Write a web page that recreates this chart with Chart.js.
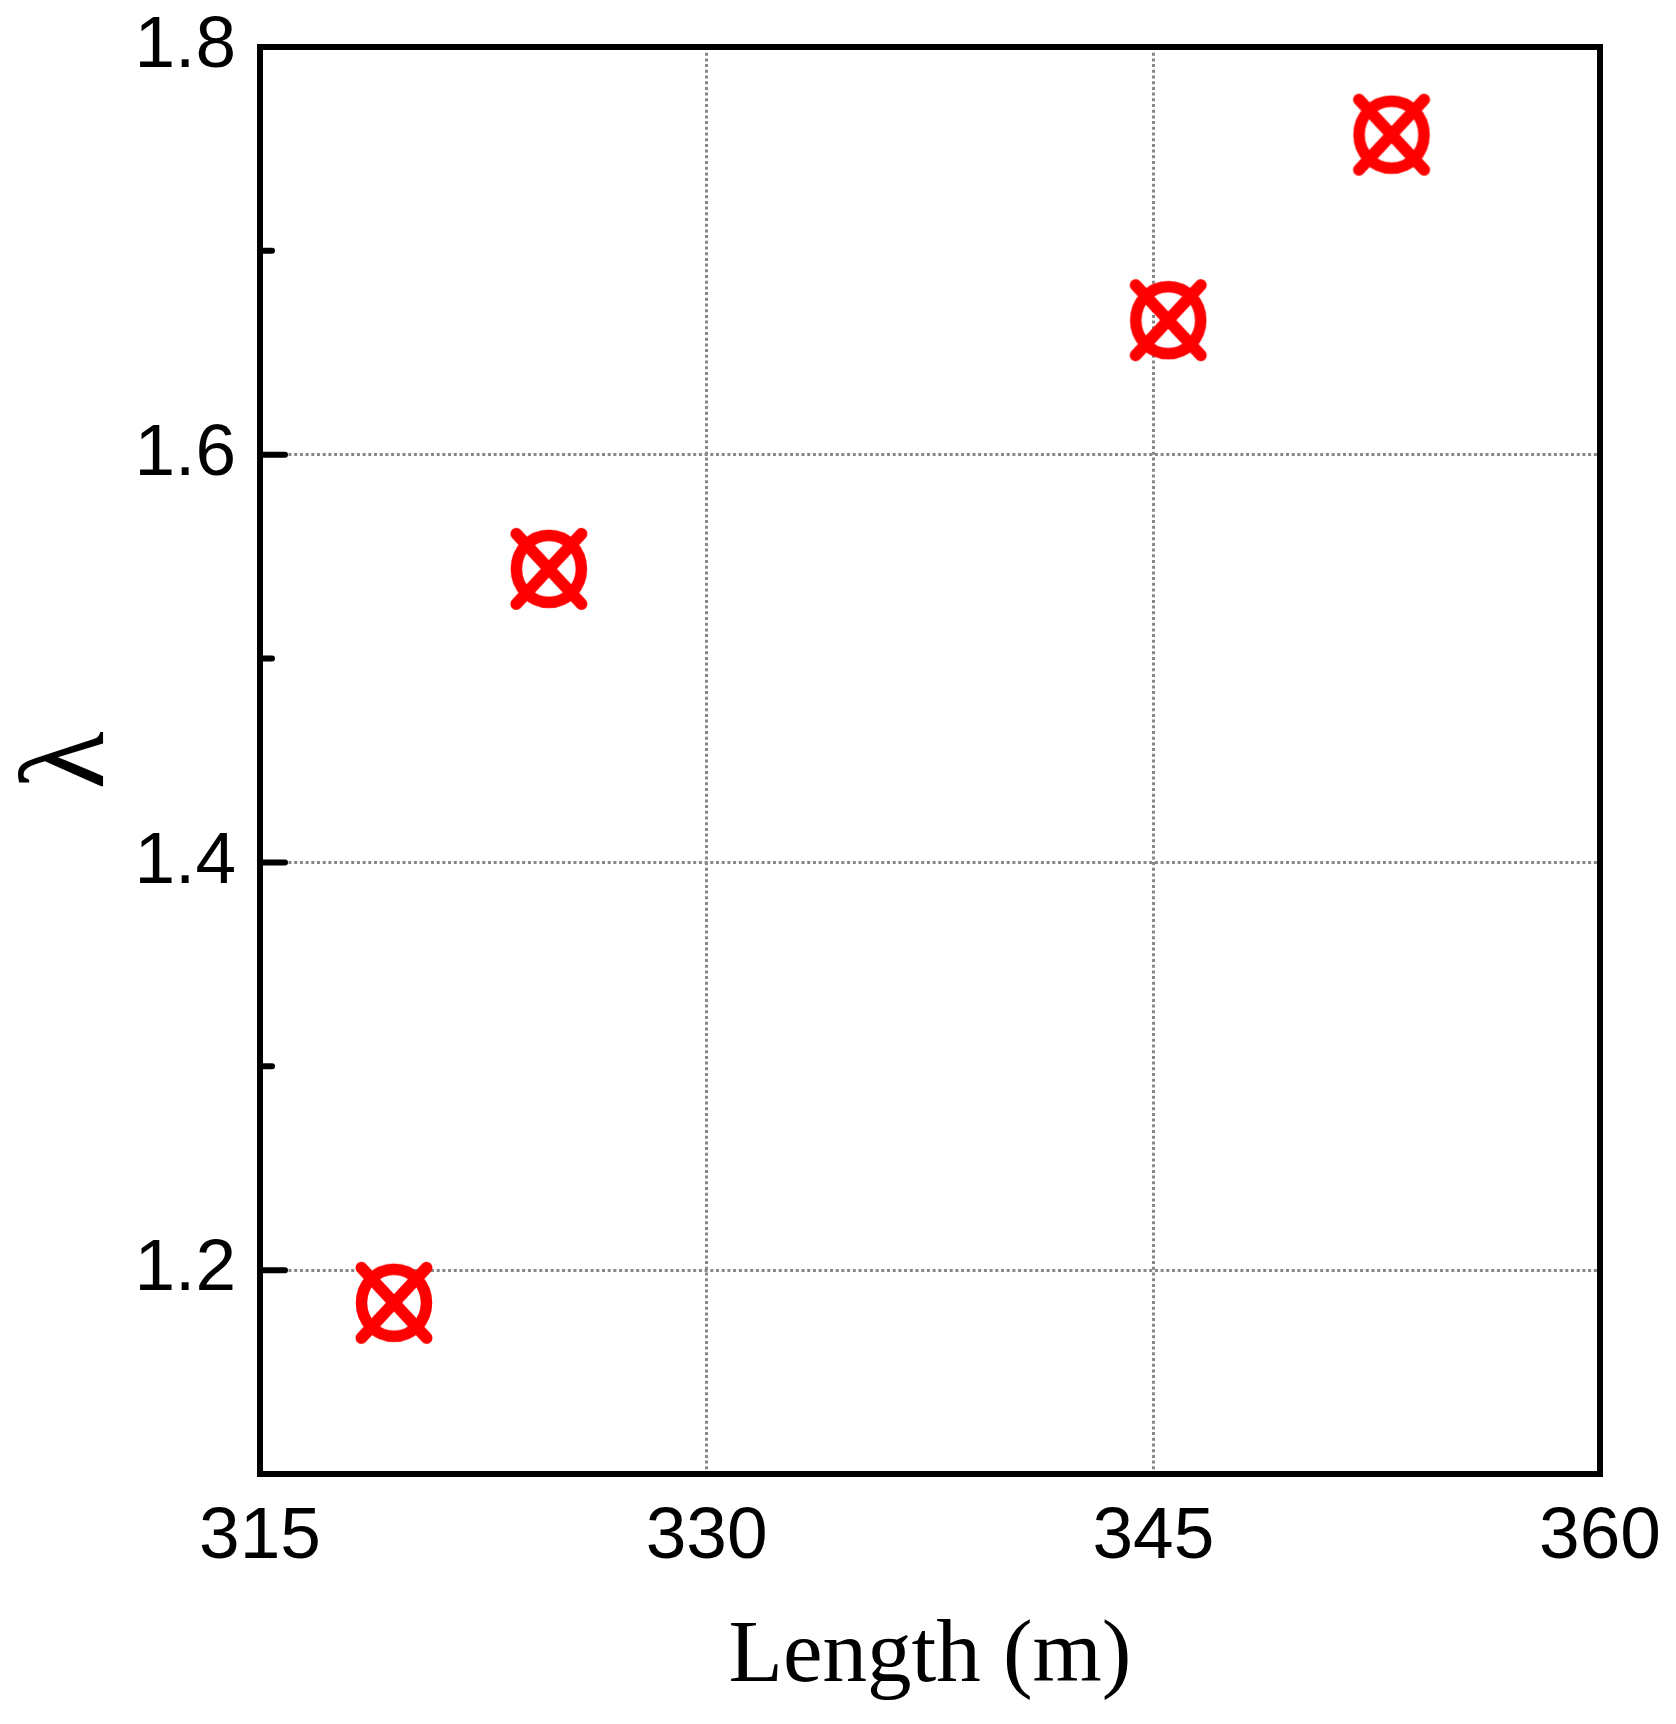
<!DOCTYPE html>
<html>
<head>
<meta charset="utf-8">
<script src="https://cdn.jsdelivr.net/npm/chart.js@4/dist/chart.umd.min.js"></script>
<style>
  html,body{margin:0;padding:0;background:#fff;}
  canvas{display:block;}
</style>
</head>
<body>
<canvas id="c" width="1676" height="1724"></canvas>
<script>
// ---- data ----
const lengthM = [319.5, 324.7, 345.5, 353.0];
const lambdaVals = [1.184, 1.544, 1.666, 1.757];
const xTickValues = [315, 330, 345, 360];
const yMajorTicks = [1.2, 1.4, 1.6, 1.8];
const yMinorTicks = [1.1, 1.3, 1.5, 1.7];
const xTitle = 'Length (m)';
const yTitle = 'λ';

// ---- marker (circle with diagonal cross) ----
function makeMarker() {
  const s = 100;
  const c = document.createElement('canvas');
  c.width = s; c.height = s;
  const g = c.getContext('2d');
  const m = s / 2;
  g.strokeStyle = '#ff0000';
  g.lineWidth = 11.5;
  g.beginPath();
  g.ellipse(m, m, 32.5, 33.5, 0, 0, Math.PI * 2);
  g.stroke();
  g.lineCap = 'round';
  g.lineWidth = 12;
  g.beginPath();
  g.moveTo(m - 32.5, m - 35); g.lineTo(m + 32.5, m + 35);
  g.moveTo(m + 32.5, m - 35); g.lineTo(m - 32.5, m + 35);
  g.stroke();
  return c;
}
const marker = makeMarker();

const isMajorY = v => yMajorTicks.some(t => Math.abs(t - v) < 1e-6);
const GRID = '#888888';

const framePlugin = {
  id: 'frame',
  beforeDatasetsDraw(chart) {
    const {ctx, chartArea: a, scales} = chart;
    ctx.save();
    ctx.strokeStyle = '#000';
    ctx.lineCap = 'round';
    ctx.lineWidth = 6;
    const ys = scales.y;
    yMajorTicks.forEach(v => {
      const py = ys.getPixelForValue(v);
      ctx.beginPath(); ctx.moveTo(a.left, py); ctx.lineTo(a.left + 25, py); ctx.stroke();
    });
    yMinorTicks.forEach(v => {
      const py = ys.getPixelForValue(v);
      ctx.beginPath(); ctx.moveTo(a.left, py); ctx.lineTo(a.left + 12, py); ctx.stroke();
    });
    ctx.lineCap = 'butt';
    ctx.lineJoin = 'miter';
    ctx.strokeRect(a.left, a.top, a.right - a.left, a.bottom - a.top);
    ctx.restore();
  }
};

new Chart(document.getElementById('c'), {
  type: 'scatter',
  data: {
    datasets: [{
      data: lengthM.map((x, i) => ({x: x, y: lambdaVals[i]})),
      pointStyle: marker,
      pointRadius: 36,
      pointHoverRadius: 36,
      showLine: false,
      clip: false
    }]
  },
  options: {
    responsive: false,
    animation: false,
    devicePixelRatio: 1,
    layout: {padding: {left: 0, top: 47, right: 76, bottom: 0}},
    plugins: {legend: {display: false}, tooltip: {enabled: false}},
    scales: {
      x: {
        type: 'linear',
        min: 315, max: 360,
        afterBuildTicks: s => { s.ticks = xTickValues.map(v => ({value: v})); },
        afterFit: s => { s.height = 250; s.paddingLeft = 0; s.paddingRight = 0; },
        border: {display: false, dash: [3, 2.7]},
        grid: {
          drawTicks: false,
          lineWidth: 3,
          color: c => (c.tick && (c.tick.value === 330 || c.tick.value === 345)) ? GRID : 'rgba(0,0,0,0)'
        },
        ticks: {
          padding: 20,
          color: '#000',
          maxRotation: 0,
          autoSkip: false,
          font: {family: '"Liberation Sans", Arial, sans-serif', size: 73},
          callback: v => String(v)
        },
        title: {
          display: true,
          text: xTitle,
          color: '#000',
          font: {family: '"Liberation Serif", "Times New Roman", serif', size: 89, lineHeight: 1},
          padding: {top: 0, bottom: 22}
        }
      },
      y: {
        type: 'linear',
        min: 1.1, max: 1.8,
        afterBuildTicks: s => {
          s.ticks = yMinorTicks.concat(yMajorTicks).sort((a, b) => a - b).map(v => ({value: v}));
        },
        afterFit: s => { s.width = 260; s.paddingTop = 0; s.paddingBottom = 0; },
        border: {display: false, dash: [3, 2.7]},
        grid: {
          drawTicks: false,
          lineWidth: 3,
          color: c => (c.tick && isMajorY(c.tick.value) && Math.abs(c.tick.value - 1.8) > 1e-6) ? GRID : 'rgba(0,0,0,0)'
        },
        ticks: {
          padding: 24,
          color: '#000',
          autoSkip: false,
          font: {family: '"Liberation Sans", Arial, sans-serif', size: 73},
          callback: v => isMajorY(v) ? v.toFixed(1) : ''
        },
        title: {
          display: true,
          text: yTitle,
          color: '#000',
          font: {family: '"Liberation Serif", "Times New Roman", serif', size: 120, lineHeight: 1},
          padding: {top: 11, bottom: 0}
        }
      }
    }
  },
  plugins: [framePlugin]
});
</script>
</body>
</html>
